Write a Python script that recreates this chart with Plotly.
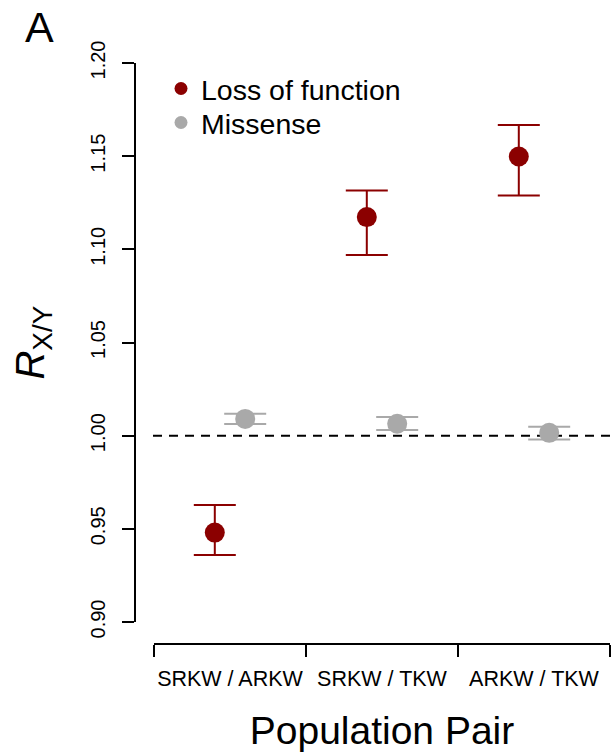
import numpy as np
import plotly.graph_objects as go

categories = ["SRKW / ARKW", "SRKW / TKW", "ARKW / TKW"]
cat_pos = [1, 2, 3]
boundaries = [0.5, 1.5, 2.5, 3.5]

lof_mean = [0.948, 1.1173, 1.1498]
lof_low = [0.936, 1.0969, 1.1289]
lof_high = [0.9628, 1.1316, 1.1667]

mis_mean = [1.0090, 1.0064, 1.0015]
mis_low = [1.0063, 1.0030, 0.9980]
mis_high = [1.0117, 1.0100, 1.0048]

y_ticks = [0.90, 0.95, 1.00, 1.05, 1.10, 1.15, 1.20]
offset = 0.1

LOF_COL = "#8B0000"
MIS_COL = "#A9A9A9"
FONT = "Liberation Sans, Arial, Helvetica, sans-serif"

W, H = 613, 755
ml, mr, mt, mb = 135, 3, 63, 111
pw = W - ml - mr
ph = H - mt - mb

fig = go.Figure()


def add_series(mean, low, high, col, shift):
    mean = np.array(mean)
    x = np.array(cat_pos) + shift
    fig.add_trace(go.Scatter(
        x=x, y=mean, mode="markers", showlegend=False, cliponaxis=False,
        marker=dict(size=20, color=col),
        error_y=dict(type="data", symmetric=False,
                     array=np.array(high) - mean,
                     arrayminus=mean - np.array(low),
                     color=col, thickness=2, width=21),
    ))


# reference line at 1
fig.add_shape(type="line", xref="paper", yref="y",
              x0=(153 - ml) / pw, x1=1.01, y0=1.0, y1=1.0,
              line=dict(color="black", width=2, dash="9px,7px"), layer="below")

add_series(lof_mean, lof_low, lof_high, LOF_COL, -offset)
add_series(mis_mean, mis_low, mis_high, MIS_COL, offset)

# legend entries (one legend per entry for precise placement)
fig.add_trace(go.Scatter(x=[None], y=[None], mode="markers", name="Loss of function",
                         marker=dict(size=13, color=LOF_COL), legend="legend"))
fig.add_trace(go.Scatter(x=[None], y=[None], mode="markers", name="Missense",
                         marker=dict(size=13, color=MIS_COL), legend="legend2"))

fig.add_annotation(text="A", xref="paper", yref="paper",
                   x=(39 - ml) / pw, y=(H - mb - 27) / ph,
                   xanchor="center", yanchor="middle", showarrow=False,
                   font=dict(size=43, color="black", family=FONT))

legend_common = dict(xanchor="left", yanchor="middle",
                     font=dict(size=28.5, color="black", family=FONT),
                     bgcolor="rgba(0,0,0,0)", itemsizing="trace")

fig.update_layout(
    width=W, height=H,
    margin=dict(l=ml, r=mr, t=mt, b=mb, pad=0),
    paper_bgcolor="white", plot_bgcolor="white",
    font=dict(family=FONT, color="black"),
    showlegend=True,
    legend=dict(x=(161 - ml) / pw, y=(H - mb - 89) / ph, **legend_common),
    legend2=dict(x=(161 - ml) / pw, y=(H - mb - 123) / ph, **legend_common),
    xaxis=dict(
        range=[boundaries[0], boundaries[-1]],
        domain=[(154 - ml) / pw, 1],
        anchor="free", position=0,
        tickmode="array", tickvals=cat_pos, ticktext=categories,
        ticks="", ticklabelstandoff=15,
        tickfont=dict(size=21.5, color="black", family=FONT),
        showline=True, linecolor="black", linewidth=2,
        showgrid=False, zeroline=False, automargin=False,
        minor=dict(tickmode="array", tickvals=boundaries, ticks="outside",
                   ticklen=12, tickwidth=2, tickcolor="black", showgrid=False),
        title=dict(text="Population Pair", font=dict(size=39, color="black", family=FONT),
                   standoff=26),
    ),
    yaxis=dict(
        range=[y_ticks[0], y_ticks[-1]],
        domain=[(644 - 622) / ph, 1],
        anchor="free", position=0,
        tickmode="array", tickvals=y_ticks,
        ticktext=[f"{v:.2f}" for v in y_ticks],
        ticks="outside", ticklen=12, tickwidth=2, tickcolor="black",
        tickangle=-90, ticklabelstandoff=9,
        tickfont=dict(size=20, color="black", family=FONT),
        showline=True, linecolor="black", linewidth=2,
        showgrid=False, zeroline=False, automargin=False,
        title=dict(text="<i>R</i><sub>X/Y</sub>", font=dict(size=40, color="black", family=FONT),
                   standoff=29),
    ),
)

fig.write_html("out.html")
